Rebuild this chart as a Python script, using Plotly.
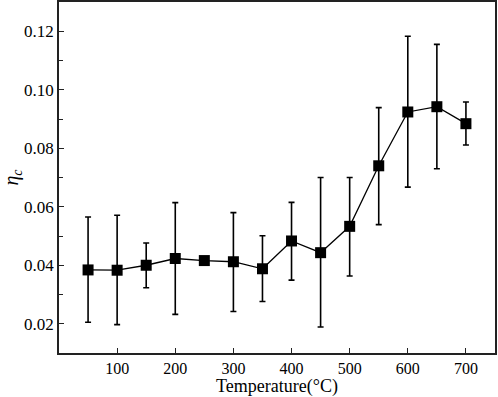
import plotly.graph_objects as go

temperature = [50, 100, 150, 200, 250, 300, 350, 400, 450, 500, 550, 600, 650, 700]
eta_c = [0.0384, 0.0383, 0.0400, 0.0423, 0.0416, 0.0412, 0.0388, 0.0483, 0.0443, 0.0533, 0.0740, 0.0924, 0.0942, 0.0884]
err_upper = [0.0565, 0.0571, 0.0476, 0.0614, 0.0416, 0.0580, 0.0501, 0.0615, 0.0700, 0.0700, 0.0939, 0.1183, 0.1155, 0.0958]
err_lower = [0.0205, 0.0197, 0.0323, 0.0232, 0.0416, 0.0242, 0.0276, 0.0349, 0.0189, 0.0363, 0.0539, 0.0667, 0.0730, 0.0811]

plus = [u - v for u, v in zip(err_upper, eta_c)]
minus = [v - l for v, l in zip(eta_c, err_lower)]

fig = go.Figure()
fig.add_trace(go.Scatter(
    x=temperature, y=eta_c,
    mode="lines+markers",
    line=dict(color="black", width=1.3),
    marker=dict(symbol="square", size=11, color="black"),
    error_y=dict(type="data", symmetric=False, array=plus, arrayminus=minus,
                 color="black", thickness=1.6, width=3),
    showlegend=False,
))

font_family = "Liberation Serif, Times New Roman, serif"
fig.update_layout(
    width=498, height=397,
    margin=dict(l=59, r=3, t=2, b=44),
    paper_bgcolor="white", plot_bgcolor="white",
    font=dict(family=font_family, size=17, color="black"),
)
fig.update_xaxes(
    range=[0, 750], tickvals=[100, 200, 300, 400, 500, 600, 700],
    ticks="inside", ticklen=5, tickwidth=1.3, tickcolor="#222",
    showline=True, linewidth=1.6, linecolor="#222", mirror=True,
    showgrid=False, zeroline=False, automargin=False,
    title=dict(text="Temperature(°C)", standoff=3, font=dict(size=18)),
    tickfont=dict(size=16),
)
fig.update_yaxes(
    range=[0.01, 0.13], tickvals=[0.02, 0.04, 0.06, 0.08, 0.10, 0.12],
    ticktext=["0.02", "0.04", "0.06", "0.08", "0.10", "0.12"],
    ticks="inside", ticklen=5, tickwidth=1.3, tickcolor="#222",
    minor=dict(tickvals=[0.01, 0.03, 0.05, 0.07, 0.09, 0.11], ticks="inside", ticklen=4, tickwidth=1.2, tickcolor="#222"),
    showline=True, linewidth=1.6, linecolor="#222", mirror=True,
    showgrid=False, zeroline=False, automargin=False,
    title=dict(text="<i>η<sub>c</sub></i>", standoff=4, font=dict(size=20)),
    tickfont=dict(size=17),
)

fig.write_html("out.html", config={"displayModeBar": False},
               post_script="document.body.style.margin='0';document.body.style.overflow='hidden';")
